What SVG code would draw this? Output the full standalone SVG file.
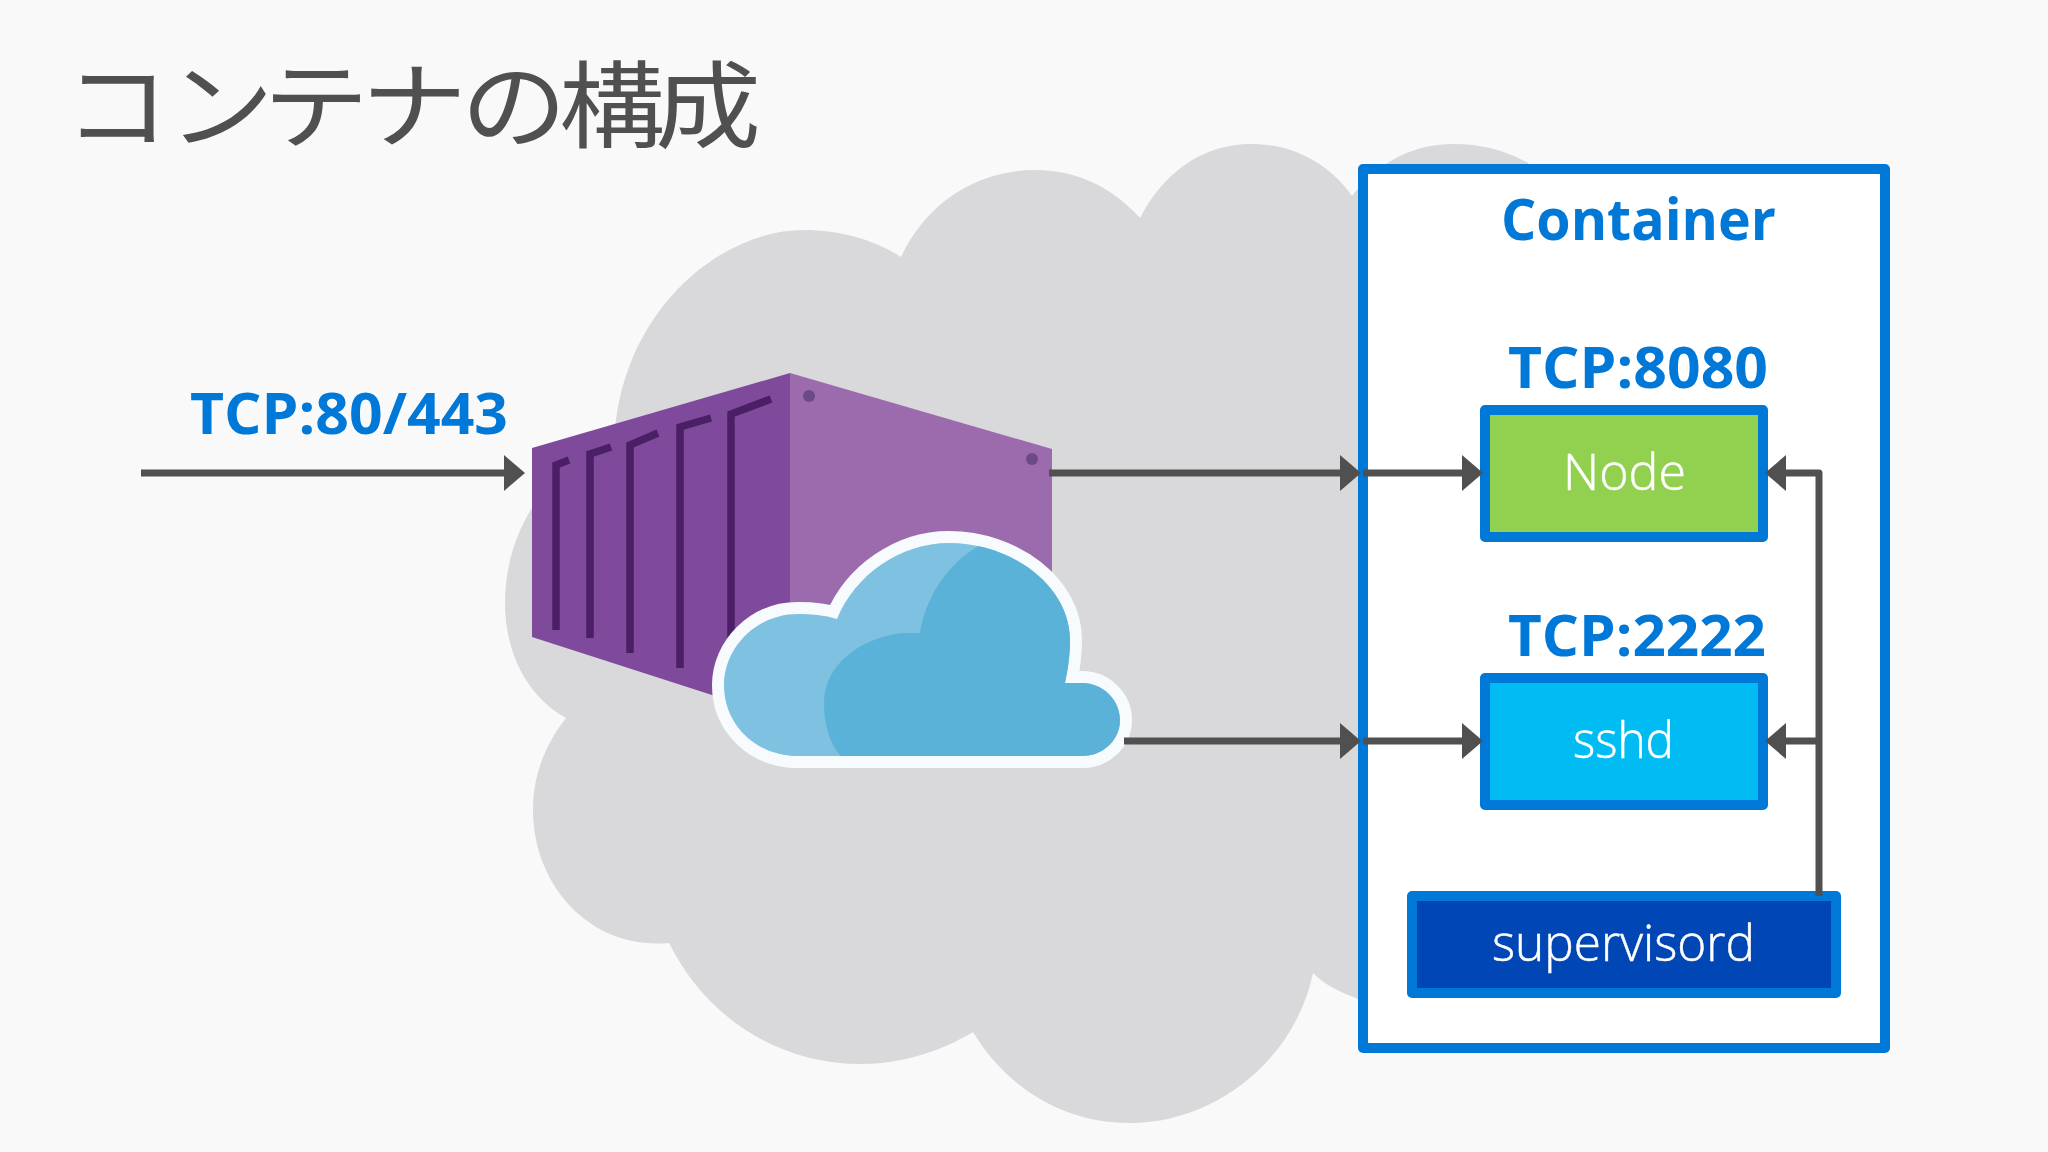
<svg xmlns="http://www.w3.org/2000/svg" width="2048" height="1152" viewBox="0 0 2048 1152">
<style>
.box{stroke:#0078d7;stroke-width:10;stroke-linejoin:round}
.hd{font-family:"Open Sans","Noto Sans",sans-serif;font-weight:700;fill:#0078d7;font-size:58px}
.lb{font-family:"Open Sans","Noto Sans",sans-serif;font-weight:300;fill:#fff;font-size:50px;stroke:#fff;stroke-width:.5}
.ln{fill:none;stroke:#505050;stroke-width:7;stroke-linejoin:round}
.rib{fill:none;stroke:#4a1f66;stroke-width:7.5}
</style>
<defs>
<marker id="ah" markerUnits="userSpaceOnUse" markerWidth="22" markerHeight="38" refX="1" refY="19" orient="auto"><path d="M0,1 L21,19 L0,37 Z" fill="#505050"/></marker>
<clipPath id="cc"><path d="M798,756 L1082,756 C1103,756 1120,740 1120,720 C1120,700 1103,683 1082,683 L1065,683 C1069,664 1070,652 1070,640 C1070,586 1012,543 949,543 C900,543 855,575 837,619 C825,615 810,614 798,614 C756,614 724,648 724,685 C724,725 756,756 798,756 Z"/></clipPath>
</defs>
<rect width="2048" height="1152" fill="#f9f9fa"/>
<path id="bg-cloud" fill="#d9d9db" d="M615,431 C625,310 720,230 804,230 C840,230 875,240 901,257 C925,205 975,170 1035,170 C1080,170 1115,190 1140,218 C1165,170 1205,144 1251,144 C1295,144 1330,165 1352,196 C1380,160 1415,144 1454,144 C1480,144 1505,150 1528,163 L1600,300 L1600,1010 L1358,999 C1340,992 1325,985 1313,973 C1295,1060 1215,1123 1130,1123 C1060,1123 1005,1085 973,1032 C940,1052 900,1064 862,1064 C775,1064 705,1015 669,943 C590,950 533,885 533,810 C533,775 545,745 566,718 C525,695 505,650 505,603 C505,560 520,520 545,490 Z"/>
<text id="title" transform="translate(0,141) scale(1,.9)" x="64 168 263 361 461 559 655" y="0" font-family="'Noto Sans CJK JP',sans-serif" font-weight="400" font-size="106" fill="#505050">コンテナの構成</text>
<g id="icon-container">
<path d="M532,448 L790,373 L790,725 L712,695 L532,637 Z" fill="#7f4a9b"/>
<path d="M790,373 L1052,449 L1052,640 L790,725 Z" fill="#9b6bae"/>
<circle cx="809" cy="396" r="6" fill="#6c4a85"/><circle cx="1032" cy="459" r="6" fill="#6c4a85"/>
<path class="rib" d="M556,630 L556,465 L569,460"/>
<path class="rib" d="M590,638 L590,454 L611,447"/>
<path class="rib" d="M630,653 L630,445 L658,433"/>
<path class="rib" d="M680,668 L680,427 L711,418"/>
<path class="rib" d="M731,690 L731,414 L771,399"/>
</g>
<g id="icon-cloud">
<path d="M798,756 L1082,756 C1103,756 1120,740 1120,720 C1120,700 1103,683 1082,683 L1065,683 C1069,664 1070,652 1070,640 C1070,586 1012,543 949,543 C900,543 855,575 837,619 C825,615 810,614 798,614 C756,614 724,648 724,685 C724,725 756,756 798,756 Z" fill="#7fc1e0" stroke="#f8fbfd" stroke-width="24" stroke-linejoin="round" paint-order="stroke"/>
<path clip-path="url(#cc)" d="M980,545 C945,565 925,600 920,633 L902,633 C860,638 824,665 824,703 C824,725 830,745 841,756 L1130,756 L1130,540 Z" fill="#5ab2d9"/>
</g>
<g id="input-label"><text class="hd" x="190" y="434" textLength="318" lengthAdjust="spacingAndGlyphs">TCP:80/443</text></g>
<g id="container">
<rect class="box" x="1363" y="169" width="522" height="879" fill="#fff"/>
<text class="hd" x="1501" y="240" textLength="275" lengthAdjust="spacingAndGlyphs">Container</text>
</g>
<g id="node">
<text class="hd" x="1508" y="388" textLength="260" lengthAdjust="spacingAndGlyphs">TCP:8080</text>
<rect class="box" x="1485" y="410" width="278" height="127" fill="#92d050"/>
<text class="lb" x="1563" y="490" textLength="123" lengthAdjust="spacingAndGlyphs">Node</text>
</g>
<g id="sshd">
<text class="hd" x="1508" y="656" textLength="258" lengthAdjust="spacingAndGlyphs">TCP:2222</text>
<rect class="box" x="1485" y="678" width="278" height="127" fill="#00bcf2"/>
<text class="lb" x="1573" y="758" textLength="101" lengthAdjust="spacingAndGlyphs">sshd</text>
</g>
<g id="supervisord">
<rect class="box" x="1412" y="896" width="424" height="97" fill="#0047b5"/>
<text class="lb" x="1492" y="961" textLength="263" lengthAdjust="spacingAndGlyphs">supervisord</text>
</g>
<g id="connectors">
<path class="ln" d="M141,473 L505,473" marker-end="url(#ah)"/>
<path class="ln" d="M1049,473 L1341,473" marker-end="url(#ah)"/>
<path class="ln" d="M1363,473 L1463,473" marker-end="url(#ah)"/>
<path class="ln" d="M1124,741 L1341,741" marker-end="url(#ah)"/>
<path class="ln" d="M1363,741 L1463,741" marker-end="url(#ah)"/>
<path class="ln" d="M1819,896 L1819,473 L1785,473" marker-end="url(#ah)"/>
<path class="ln" d="M1819,741 L1785,741" marker-end="url(#ah)"/>
</g>
</svg>
